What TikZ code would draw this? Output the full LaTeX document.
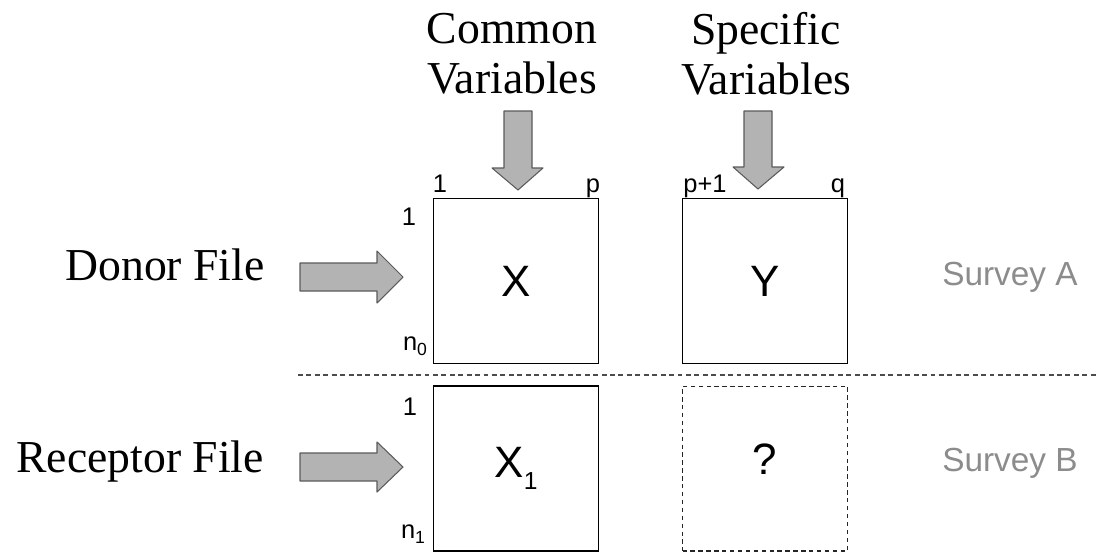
\documentclass[tikz,border=0pt]{standalone}
\usepackage{fontspec}
\setmainfont{Liberation Serif}
\setsansfont{Liberation Sans}
\usetikzlibrary{positioning}
\definecolor{ArrowFill}{HTML}{B3B3B3}
\definecolor{ArrowEdge}{HTML}{5A5A5A}
\definecolor{SurveyGray}{HTML}{8C8C8C}

\begin{document}
\begin{tikzpicture}[
    x=0.02cm, y=-0.02cm,
    block/.style={draw, line width=0.8pt, minimum width=3.3cm, minimum height=3.3cm, inner sep=0pt, font=\sffamily\fontsize{25}{30}\selectfont},
    missing/.style={block, draw=black!85, line width=0.6pt, dash pattern=on 2.5pt off 2pt},
    fat/.style={fill=ArrowFill, draw=ArrowEdge, line width=0.6pt, line join=round},
    sep/.style={draw=black!70, line width=0.7pt, dash pattern=on 2.8pt off 2pt},
    heading/.style={align=center, inner sep=0pt, font=\fontsize{26}{28.5}\selectfont},
    filelabel/.style={anchor=base, inner sep=0pt, font=\fontsize{26}{30}\selectfont},
    survey/.style={anchor=base, inner sep=0pt, text=SurveyGray, font=\sffamily\fontsize{19}{22}\selectfont},
    idx/.style={anchor=base, inner sep=0pt, font=\sffamily\fontsize{14.5}{16}\selectfont}
]
  \useasboundingbox (0,0) rectangle (1097,552);
  % Headings
  \node[heading] (common) at (512,54) {Common\\Variables};
  \node[heading] (specific) at (766,54) {Specific\\Variables};
  % Data blocks
  \node[block] (X) at (516,281) {X};
  \node[block] (Y) at (765,281) {Y};
  \node[block] (X1) at (516,468.5) {X\raisebox{-7pt}{\fontsize{14}{16}\selectfont 1}};
  \node[missing, text depth=11pt] (Q) at (765,468.5) {?};
  % Separator
  \coordinate (sepL) at (298,375);
  \coordinate (sepR) at (1097,375);
  \draw[sep] (sepL) -- (sepR);
  % Column and row indices
  \node[idx] (c1) at (440,192) {1};
  \node[idx] (cp) at (593,192) {p};
  \node[idx] (cp1) at (705,192) {p+1};
  \node[idx] (cq) at (838,192) {q};
  \node[idx] (r1) at (409,225) {1};
  \node[idx] (rn0) at (415,350) {n\raisebox{-3.4pt}{\fontsize{10}{12}\selectfont 0}};
  \node[idx] (s1) at (410,415) {1};
  \node[idx] (sn1) at (413,538) {n\raisebox{-3.4pt}{\fontsize{10}{12}\selectfont 1}};
  % Files and surveys
  \node[filelabel] (donor) at (165,280) {Donor File};
  \node[filelabel] (receptor) at (140,472) {Receptor File};
  \node[survey] (surveyA) at (1010,285) {Survey A};
  \node[survey] (surveyB) at (1010,471) {Survey B};
  % Block arrows
  \draw[fat] (504,111) -- (532,111) -- (532,168) -- (543,168) -- (518,190) -- (492,168) -- (504,168) -- cycle;
  \draw[fat] (744,111) -- (772,111) -- (772,167) -- (784,167) -- (758,189) -- (733,167) -- (744,167) -- cycle;
  \draw[fat] (300,263) -- (377,263) -- (377,251) -- (403,277) -- (377,303) -- (377,291) -- (300,291) -- cycle;
  \draw[fat] (300,453) -- (377,453) -- (377,442) -- (403,467) -- (377,492) -- (377,481) -- (300,481) -- cycle;
\end{tikzpicture}
\end{document}
